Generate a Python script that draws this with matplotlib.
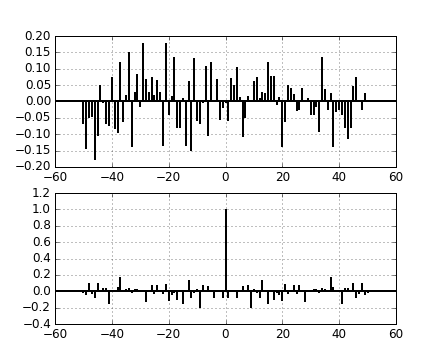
import numpy as np
import matplotlib
matplotlib.use("Agg")
import matplotlib.pyplot as plt

plt.style.use('classic')

lags = np.arange(-50, 51)

# cross-correlation values, lags -50..50
xcorr_vals = [-0.07, -0.145, -0.05, -0.047, -0.178, -0.105, 0.05, -0.005, -0.07, -0.075,
              0.074, -0.083, -0.096, 0.12, -0.063, 0.02, 0.15, -0.14, 0.03, 0.083,
              -0.016, 0.18, 0.068, 0.03, 0.075, 0.02, 0.065, 0.03, -0.135, 0.18,
              -0.04, 0.016, 0.137, -0.08, -0.08, 0.01, -0.136, 0.064, -0.15, 0.132,
              -0.06, -0.07, -0.005, 0.107, -0.105, 0.122, 0.005, 0.07, -0.058, -0.02,
              -0.005,
              -0.06, 0.073, 0.05, 0.104, 0.014, -0.11, -0.05, 0.017, 0.005, 0.064,
              0.076, 0.01, 0.028, 0.025, 0.12, 0.077, 0.077, -0.01, 0.015, -0.14,
              -0.062, 0.05, 0.042, 0.022, -0.03, -0.025, 0.042, 0.005, 0.011, -0.04,
              -0.04, -0.018, -0.093, 0.137, 0.038, -0.027, 0.027, -0.14, -0.032, -0.025,
              -0.042, -0.081, -0.114, -0.08, 0.048, 0.076, 0.005, -0.027, 0.027, 0.005]

# autocorrelation values, lags -50..50
acorr_vals = [-0.015, -0.05, 0.1, -0.03, -0.085, 0.1, 0.005, 0.037, 0.037, -0.15,
              0.016, 0.005, 0.05, 0.18, 0.005, 0.03, 0.037, -0.016, 0.025, 0.025,
              0.01, 0.005, -0.126, 0.005, 0.077, -0.037, 0.077, 0.01, -0.03, 0.09,
              -0.114, -0.045, -0.02, -0.106, 0.01, -0.155, 0.0, 0.134, -0.077, -0.025,
              0.025, -0.2, 0.077, -0.01, 0.065, 0.005, -0.085, 0.0, 0.005, -0.085,
              1.0,
              -0.085, 0.005, 0.0, -0.085, 0.005, 0.065, -0.01, 0.077, -0.2, 0.025,
              -0.025, -0.077, 0.134, 0.0, -0.155, 0.01, -0.106, -0.02, -0.045, -0.114,
              0.09, -0.03, 0.01, 0.077, -0.037, 0.077, 0.005, -0.126, 0.005, 0.01,
              0.025, 0.025, -0.016, 0.037, 0.03, 0.005, 0.18, 0.05, 0.005, 0.016,
              -0.15, 0.037, 0.037, 0.005, 0.1, -0.085, -0.03, 0.1, -0.05, -0.015]

fig = plt.figure(figsize=(440 / 72.0, 360 / 72.0), dpi=72)

ax1 = fig.add_subplot(211)
ax1.vlines(lags, 0, xcorr_vals, colors='k', lw=2)
ax1.axhline(0, color='b', lw=2)
ax1.axhline(0, color='black', lw=2)
ax1.grid(True)
ax1.set_xlim(-60, 60)
ax1.set_ylim(-0.2, 0.2)
ax1.set_yticks(np.arange(-0.2, 0.21, 0.05))
ax1.set_xticks(np.arange(-60, 61, 20))

ax2 = fig.add_subplot(212, sharex=ax1)
ax2.vlines(lags, 0, acorr_vals, colors='k', lw=2)
ax2.axhline(0, color='b', lw=2)
ax2.axhline(0, color='black', lw=2)
ax2.grid(True)
ax2.set_ylim(-0.4, 1.2)
ax2.set_yticks(np.arange(-0.4, 1.21, 0.2))

fig.savefig("out.png", dpi=72, facecolor='white')
